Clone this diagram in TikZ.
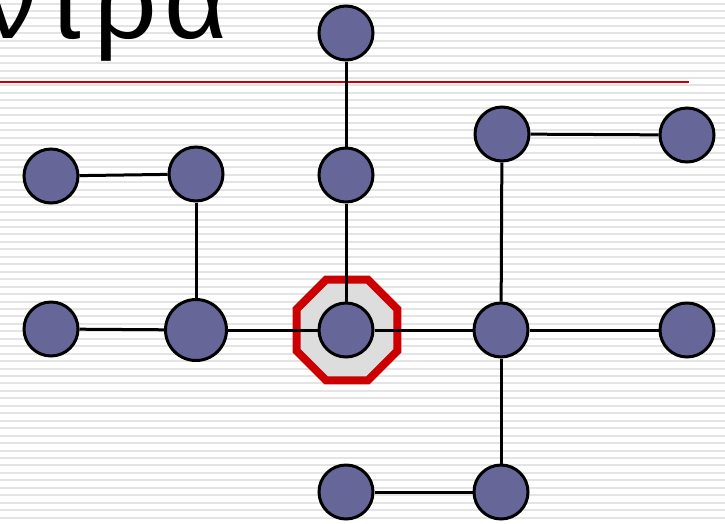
\documentclass[tikz,border=0pt]{standalone}
\usepackage{fontspec}
\setmainfont{Liberation Sans}
\usetikzlibrary{shapes.geometric}
\definecolor{vertexblue}{HTML}{666699}
\definecolor{hubred}{HTML}{CC0000}
\definecolor{hubgray}{HTML}{DDDDDD}
\definecolor{stripegray}{HTML}{E4E4E4}
\tikzset{
  vertex/.style = {circle, draw, line width=3pt, fill=vertexblue, inner sep=0, minimum size=54pt},
  bigvertex/.style = {vertex, minimum size=61pt},
  hubring/.style = {regular polygon, regular polygon sides=8, draw=hubred, line width=8pt, fill=hubgray, inner sep=0, minimum size=109pt},
  link/.style = {line width=3pt},
  title/.style = {inner sep=0, font=\fontsize{110}{110}\selectfont},
}
\newcommand{\tr}{\kern7pt}

\begin{document}
\begin{tikzpicture}[x=1pt, y=-1pt]
        \useasboundingbox (0,0) rectangle (725,523);
        \clip (0,0) rectangle (725,523);
        % striped slide background
        \fill[white] (0,0) rectangle (725,523);
        \foreach \k in {0,...,70}{
          \fill[stripegray] (0,2.5+7.45*\k) rectangle (725,4.5+7.45*\k);
        }
        \node (head) [title, anchor=base east] at (228,38) {Κ\tr έ\tr ν\tr τ\tr ρ\tr α};
        \draw [hubred, line width=2.5pt] (0,82) -- (689,82);

        % the highlighted centre
        \node (ring) [hubring] at (347,330) {};

        % vertices: name / x / y / style
        \foreach \N/\x/\y/\s in {
          top/346/33/vertex,
          mid/346/175/vertex,
          hub/346/330/vertex,
          ula/51/176/vertex,
          ulb/196/174/vertex,
          lla/51/329/vertex,
          llb/196/330/bigvertex,
          ura/502/134/vertex,
          urb/687/135/vertex,
          cra/501/330/vertex,
          crb/687/330/vertex,
          lwa/346/492/vertex,
          lwb/501/492/vertex%
        }{
          \node (\N) [\s] at (\x,\y) {};
        }

        % links
        \foreach \A/\B in {top/mid, mid/hub, ula/ulb, ulb/llb, lla/llb, llb/hub,
                           hub/cra, cra/crb, ura/urb, ura/cra, cra/lwb, lwa/lwb}{
          \draw [link] (\A) -- (\B);
        }
      \end{tikzpicture}
\end{document}
